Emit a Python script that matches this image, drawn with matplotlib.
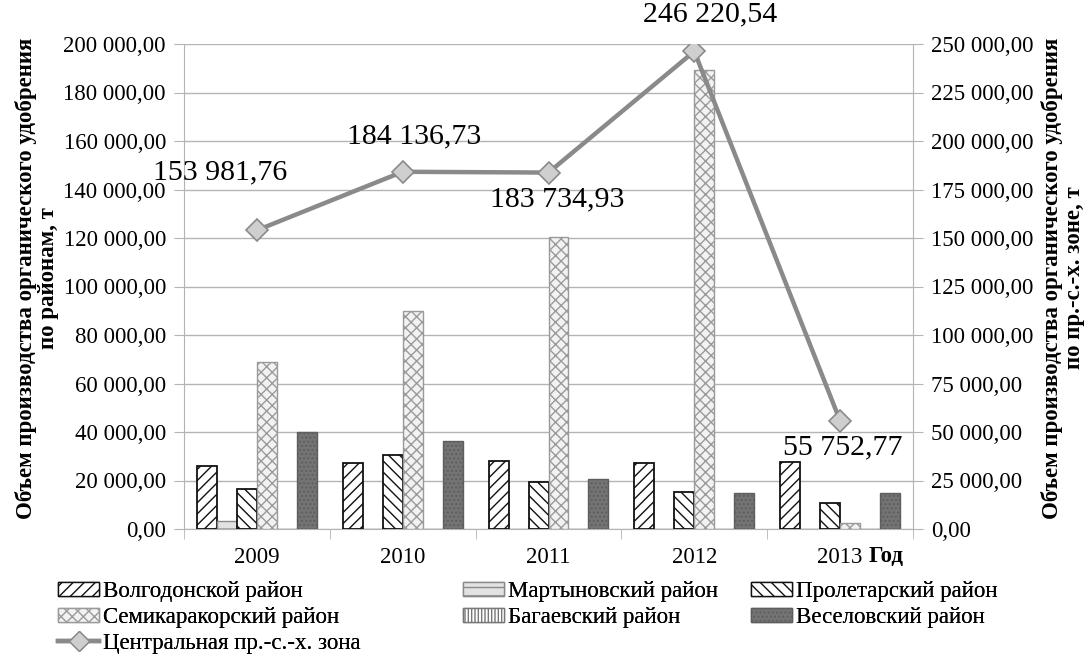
import numpy as np
import matplotlib
matplotlib.use("Agg")
import matplotlib.pyplot as plt
from matplotlib.patches import Patch
from matplotlib.lines import Line2D
from matplotlib.ticker import FuncFormatter, MultipleLocator

plt.rcParams['font.family'] = ['Liberation Serif', 'DejaVu Serif']
plt.rcParams['hatch.linewidth'] = 1.0

years = ["2009", "2010", "2011", "2012", "2013"]

# Production by district, t
volgodonsk = [26000, 27300, 28200, 27100, 27800]
martynovka = [3300, 0, 0, 0, 0]
proletarsk = [16500, 30500, 19500, 15400, 10900]
semikarakorsk = [69000, 90000, 120300, 189300, 2500]
bagaevsk = [0, 0, 0, 0, 0]
veselovsk = [40000, 36400, 20500, 15000, 15000]

# Central agricultural zone total, t
central_zone = [153981.76, 184136.73, 183734.93, 246220.54, 55752.77]

district_names = ["Волгодонской район", "Мартыновский район", "Пролетарский район",
                  "Семикаракорский район", "Багаевский район", "Веселовский район"]
zone_name = "Центральная пр.-с.-х. зона"

styles = [
    dict(facecolor="white", edgecolor="#111111", hatch="///", linewidth=1.3),
    dict(facecolor="#e2e2e2", edgecolor="#8a8a8a", hatch="--", linewidth=1.0),
    dict(facecolor="white", edgecolor="#111111", hatch="\\\\\\", linewidth=1.3),
    dict(facecolor="#f2f2f2", edgecolor="#9a9a9a", hatch="xxx", linewidth=1.0),
    dict(facecolor="white", edgecolor="#777777", hatch="|||||", linewidth=1.0),
    dict(facecolor="#747474", edgecolor="#5e5e5e", hatch="....", linewidth=1.0),
]


def ru_fmt(v, pos=None):
    s = f"{v:,.2f}"
    return s.replace(",", " ").replace(".", ",")


fig = plt.figure(figsize=(10.89, 6.57), dpi=100)
ax = fig.add_axes([184 / 1089, 1 - 529 / 657, (913 - 184) / 1089, (529 - 44) / 657])

x = np.arange(len(years))
w = 0.137
series = [volgodonsk, martynovka, proletarsk, semikarakorsk, bagaevsk, veselovsk]
for i, (vals, st) in enumerate(zip(series, styles)):
    ax.bar(x + (i - 2.5) * w, vals, width=w, zorder=3, **st)

grid_c = "#b4b4b4"
ax.set_xlim(-0.5, 4.5)
ax.set_ylim(0, 200000)
ax.yaxis.set_major_locator(MultipleLocator(20000))
ax.yaxis.set_major_formatter(FuncFormatter(ru_fmt))
ax.grid(axis="y", color=grid_c, linewidth=1.0, zorder=0)
ax.set_axisbelow(True)
ax.set_xticks(x)
ax.set_xticklabels(years)
ax.set_xticks(np.arange(-0.5, 4.6, 1.0), minor=True)
ax.tick_params(axis="x", which="major", length=0, pad=13, labelsize=16.5)
ax.tick_params(axis="x", which="minor", length=7, color=grid_c, direction="out")
ax.tick_params(axis="y", length=7, color=grid_c, direction="out", labelsize=16.5, pad=6)
for side in ("left", "bottom"):
    ax.spines[side].set_color(grid_c)
ax.spines["top"].set_visible(False)
ax.spines["right"].set_visible(False)

ax2 = ax.twinx()
ax2.set_ylim(0, 250000)
ax2.yaxis.set_major_locator(MultipleLocator(25000))
ax2.yaxis.set_major_formatter(FuncFormatter(ru_fmt))
ax2.tick_params(axis="y", length=7, color=grid_c, direction="out", labelsize=16.5, pad=6)
ax2.spines["right"].set_color(grid_c)
for side in ("left", "top", "bottom"):
    ax2.spines[side].set_visible(False)

ax2.plot(x, central_zone, color="#8a8a8a", linewidth=3.2, marker="D", markersize=11,
         markerfacecolor="#cfcfcf", markeredgecolor="#8a8a8a", markeredgewidth=1.2, zorder=5)

label_offsets = [(-37, 58), (11, 35), (9, -27), (16, 37), (3, -27)]
for xi, v, off in zip(x, central_zone, label_offsets):
    ax2.annotate(ru_fmt(v), (xi, v), xytext=off, textcoords="offset pixels",
                 ha="center", va="center", fontsize=21.5)

fig.text(37 / 1089, 1 - 278 / 657,
         "Объем производства органического удобрения\nпо районам, т",
         rotation=90, ha="center", va="center", fontsize=16.5, fontweight="bold",
         linespacing=1.05)
fig.text(1063 / 1089, 1 - 278 / 657,
         "Объем производства органического удобрения\nпо пр.-с.-х. зоне, т",
         rotation=90, ha="center", va="center", fontsize=16.5, fontweight="bold",
         linespacing=1.05)
fig.text(886 / 1089, 1 - 556 / 657, "Год", ha="center", va="center",
         fontsize=16.5, fontweight="bold")

patches = [Patch(label=n, **{k: v for k, v in st.items() if k != "linewidth"},
                 linewidth=1.0) for n, st in zip(district_names, styles)]
zone_handle = Line2D([], [], color="#8a8a8a", linewidth=3.2, marker="D", markersize=10,
                     markerfacecolor="#cfcfcf", markeredgecolor="#8a8a8a", label=zone_name)

legend_cols = [
    ([patches[0], patches[3], zone_handle], 58),
    ([patches[1], patches[4]], 463),
    ([patches[2], patches[5]], 751),
]
for col_handles, x0 in legend_cols:
    leg = fig.legend(handles=col_handles, loc="upper left",
                     bbox_to_anchor=(x0 / 1089, 1 - 581 / 657),
                     ncol=1, frameon=False, fontsize=16.5, handlelength=1.8,
                     handleheight=0.6, handletextpad=0.15, labelspacing=0.22,
                     borderpad=0, borderaxespad=0)
    fig.add_artist(leg)

fig.savefig("out.png", dpi=100)
